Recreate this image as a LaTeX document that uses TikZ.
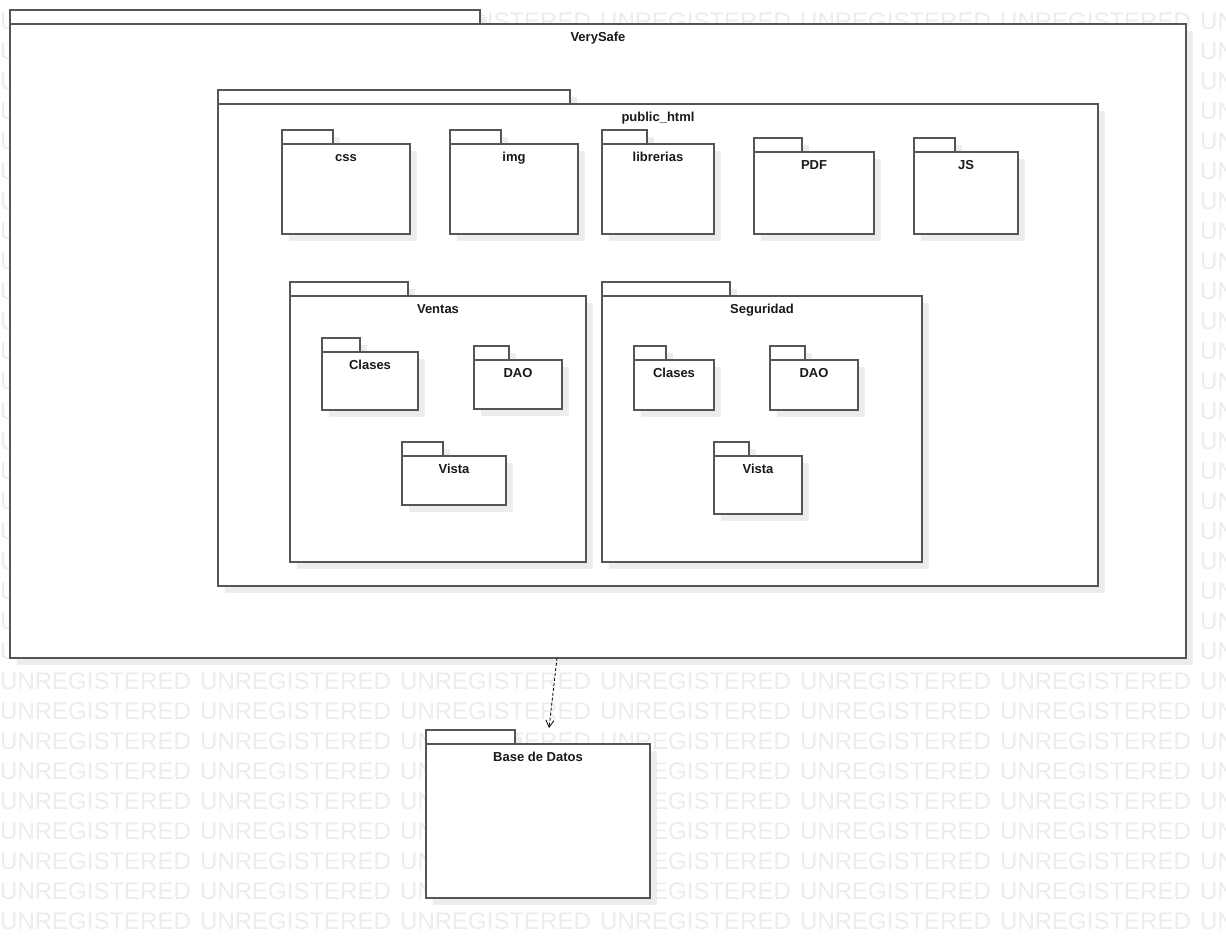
\documentclass[tikz,border=0pt]{standalone}
\usepackage{fontspec}
\setmainfont{Liberation Sans}
\usetikzlibrary{arrows.meta}

\definecolor{pkgline}{RGB}{85,85,85}
\definecolor{pkgshade}{RGB}{237,237,237}
\definecolor{wmgray}{RGB}{236,236,236}

% package: name, x, y (top of body), width, height, tab width, title
\newcommand{\umlpkg}[7]{%
  \fill[pkgshadow] (#2+7,#3-14+7) rectangle (#2+#6+7,#3+7);
  \fill[pkgshadow] (#2+7,#3+7) rectangle (#2+#4+7,#3+#5+7);
  \node[pkgbody, minimum width=#4, minimum height=#5] (#1) at (#2,#3) {};
  \node[pkgtab, minimum width=#6] (#1-tab) at (#1.north west) {};
  \node[pkgtitle] (#1-title) at ([yshift=-17pt]#1.north) {#7};
}

\begin{document}
\begin{tikzpicture}[x=1pt,y=-1pt,
  pkgshadow/.style={fill=pkgshade},
  pkgbody/.style={draw=pkgline,fill=white,line width=1.4pt,inner sep=0,outer sep=0,anchor=north west},
  pkgtab/.style={draw=pkgline,fill=white,line width=1.4pt,inner sep=0,outer sep=0,minimum height=14,anchor=south west},
  pkgtitle/.style={font=\bfseries\fontsize{13}{13}\selectfont,text=black!90,inner sep=0,anchor=base},
  wmtext/.style={font=\fontsize{24}{24}\selectfont,text=wmgray,inner sep=0,anchor=base west},
  dep/.style={densely dashed,line width=0.8pt,-{Straight Barb[length=7pt,width=8pt]}}]
  \useasboundingbox (0,0) rectangle (1226,938);

  % watermark
  \begin{scope}
    \clip (0,0) rectangle (1226,938);
    \foreach \r in {0,...,30}
      \foreach \c in {0,...,6}
        \node[wmtext] (wm-\r-\c) at (200*\c,29+30*\r) {UNREGISTERED};
  \end{scope}

  \umlpkg{vs}{10}{24}{1176}{634}{470}{VerySafe}
  \umlpkg{ph}{218}{104}{880}{482}{352}{public\_html}

  \umlpkg{css}{282}{144}{128}{90}{51}{css}
  \umlpkg{img}{450}{144}{128}{90}{51}{img}
  \umlpkg{lib}{602}{144}{112}{90}{45}{librerias}
  \umlpkg{pdf}{754}{152}{120}{82}{48}{PDF}
  \umlpkg{js}{914}{152}{104}{82}{41}{JS}

  \umlpkg{ven}{290}{296}{296}{266}{118}{Ventas}
  \umlpkg{ven-cl}{322}{352}{96}{58}{38}{Clases}
  \umlpkg{ven-dao}{474}{360}{88}{49}{35}{DAO}
  \umlpkg{ven-vi}{402}{456}{104}{49}{41}{Vista}

  \umlpkg{seg}{602}{296}{320}{266}{128}{Seguridad}
  \umlpkg{seg-cl}{634}{360}{80}{50}{32}{Clases}
  \umlpkg{seg-dao}{770}{360}{88}{50}{35}{DAO}
  \umlpkg{seg-vi}{714}{456}{88}{58}{35}{Vista}

  \umlpkg{bd}{426}{744}{224}{154}{89}{Base de Datos}

  % dependency
  \coordinate (dep-from) at ([xshift=-41pt]vs.south);
  \coordinate (dep-to) at ([xshift=11pt,yshift=16pt]bd.north);
  \draw[dep] (dep-from) -- (dep-to);
\end{tikzpicture}
\end{document}
